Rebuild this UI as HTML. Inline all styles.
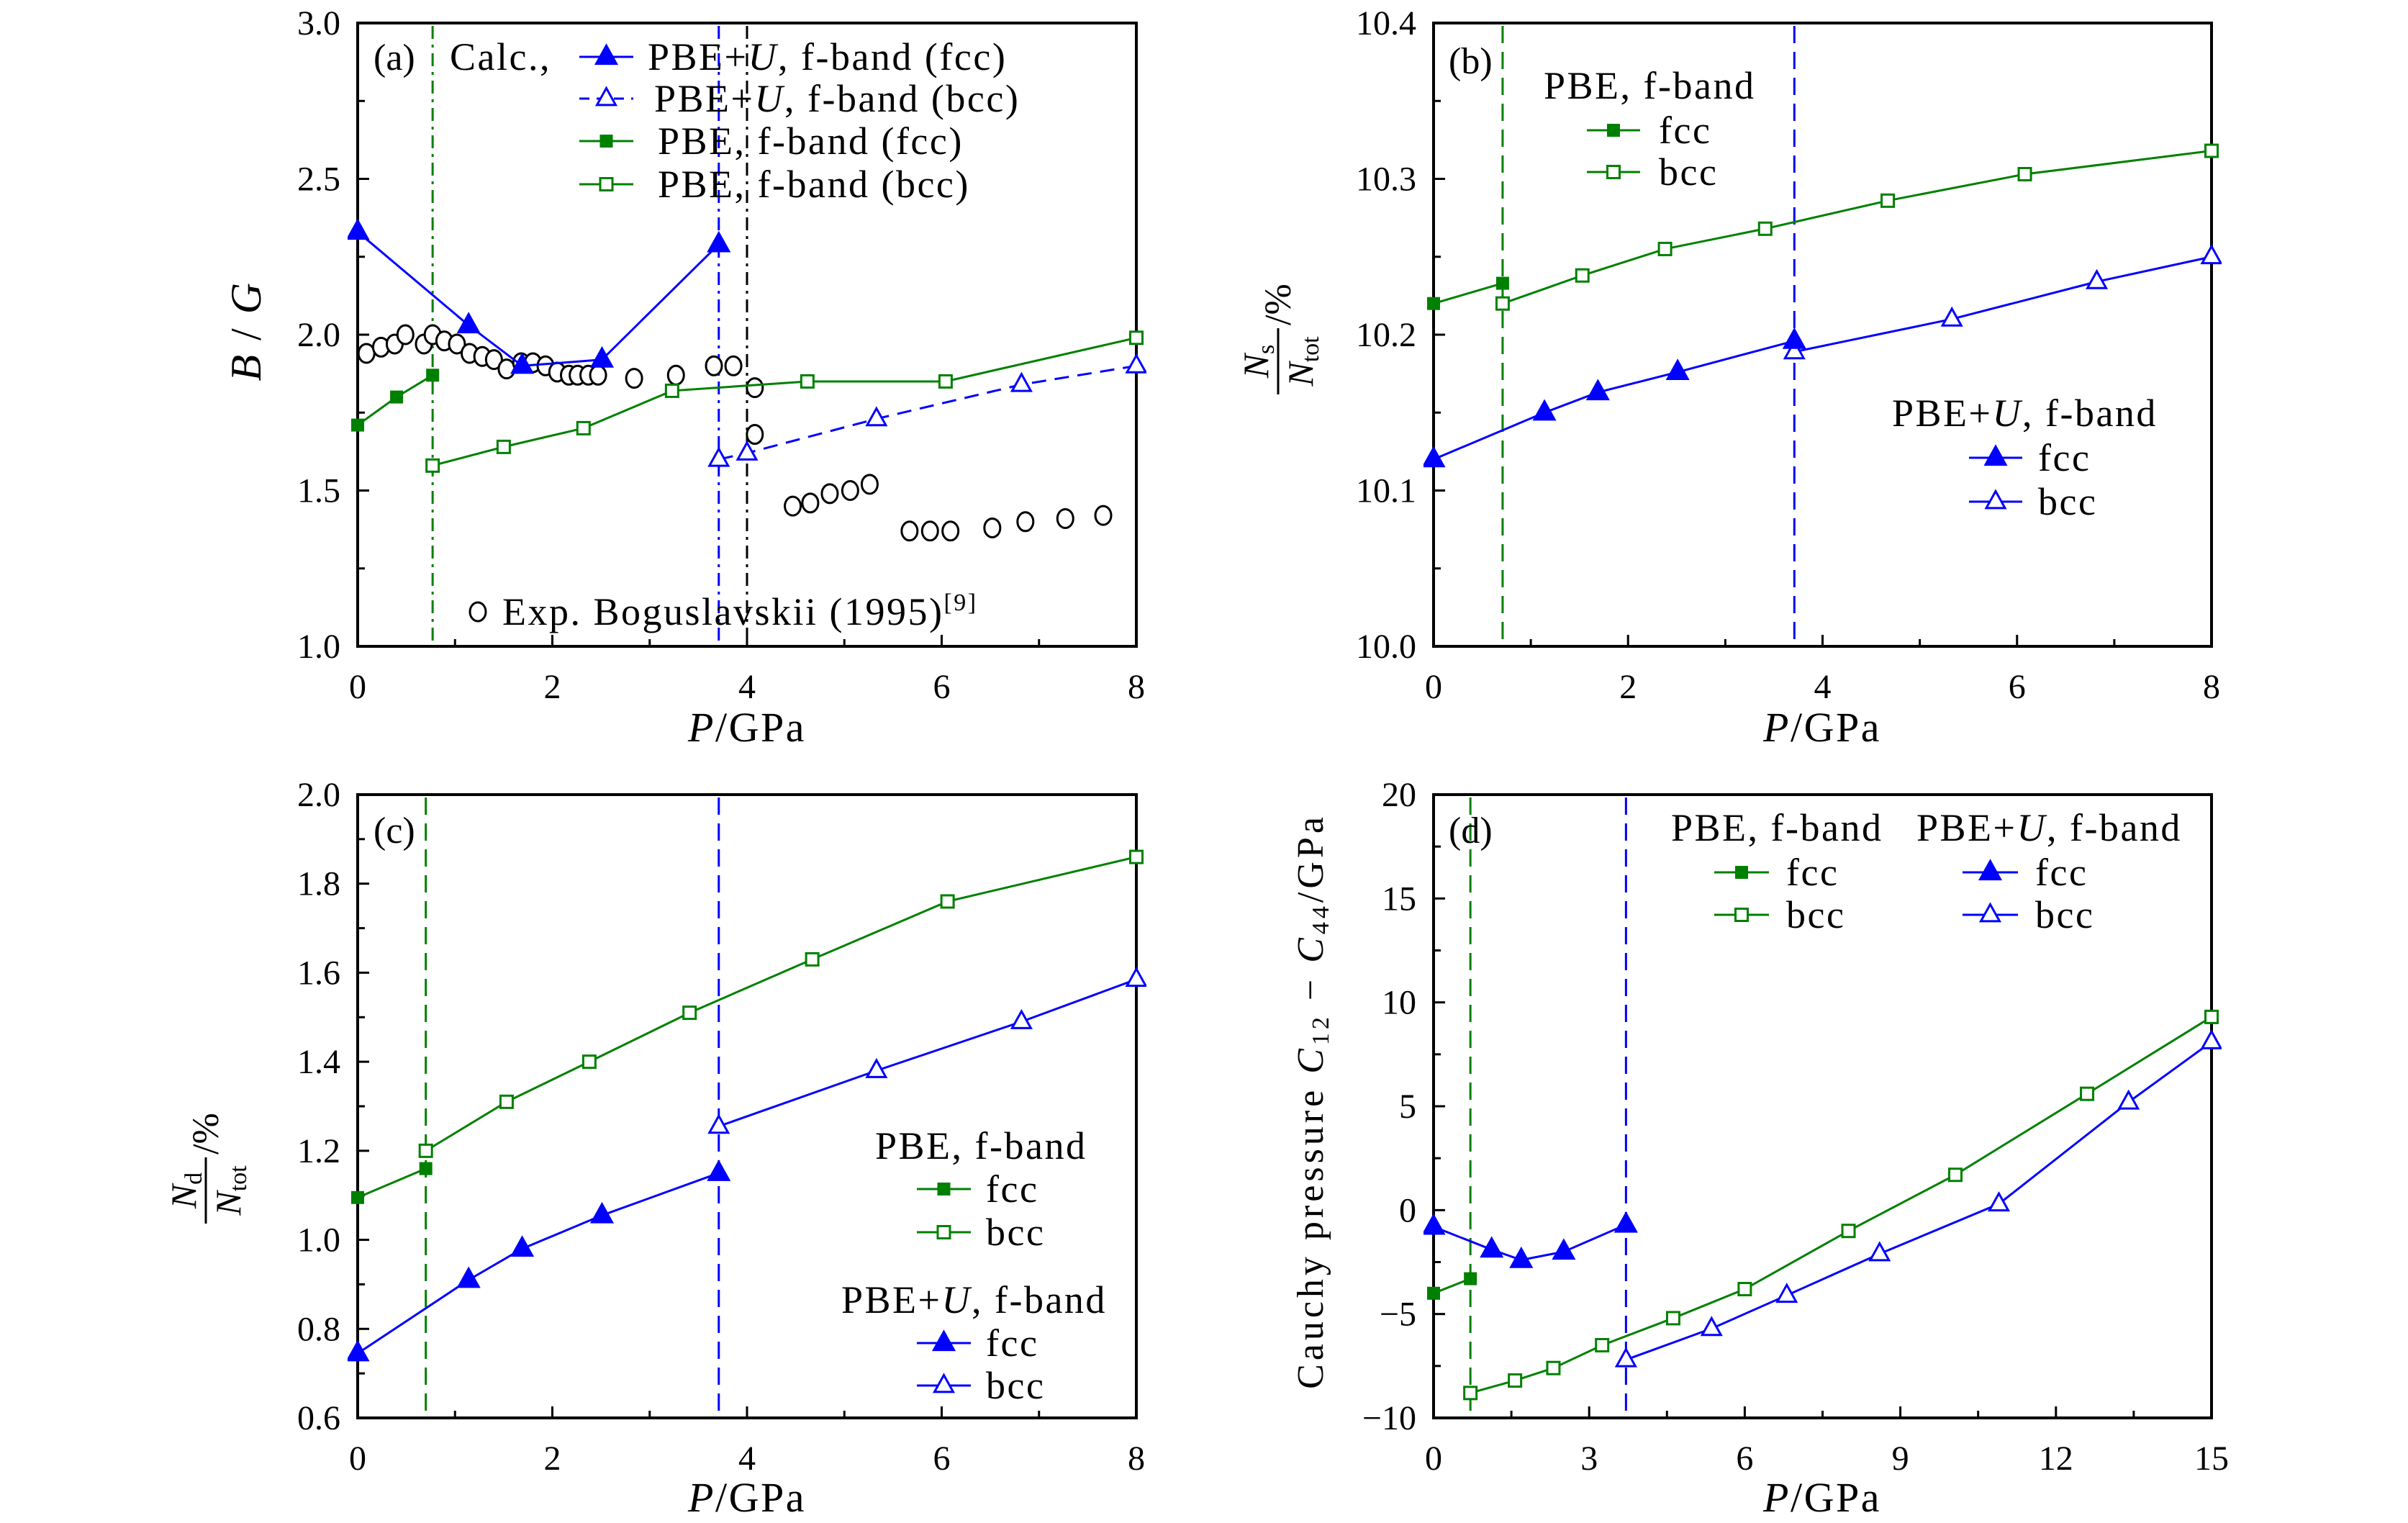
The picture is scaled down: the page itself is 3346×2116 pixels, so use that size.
<!DOCTYPE html>
<html><head><meta charset="utf-8">
<style>
html,body{margin:0;padding:0;background:#fff;}
svg{display:block;font-family:"Liberation Serif",serif;}
</style></head>
<body>
<svg id="fig" width="3346" height="2116" viewBox="0 0 3346 2116" xmlns="http://www.w3.org/2000/svg"></svg>
<script>
// ---------- Panel (a) data: B/G ----------
const aUfccX=[0,1.14,1.69,2.51,3.71];
const aUfccY=[2.33,2.03,1.90,1.92,2.29];
const aUbccX=[3.71,4.0,5.33,6.82,8];
const aUbccY=[1.60,1.62,1.73,1.84,1.90];
const aPfccX=[0,0.4,0.77];
const aPfccY=[1.71,1.80,1.87];
const aPbccX=[0.77,1.5,2.32,3.23,4.62,6.04,8];
const aPbccY=[1.58,1.64,1.70,1.82,1.85,1.85,1.99];
const aExpX=[0.09,0.24,0.38,0.49,0.68,0.77,0.89,1.02,1.15,1.28,1.40,1.53,1.68,1.80,1.93,2.05,2.17,2.26,2.37,2.47,2.84,3.27,3.66,3.86,4.08,4.08,4.47,4.65,4.85,5.06,5.26,5.67,5.88,6.09,6.52,6.86,7.27,7.66];
const aExpY=[1.94,1.96,1.97,2.00,1.97,2.00,1.98,1.97,1.94,1.93,1.92,1.89,1.91,1.91,1.90,1.88,1.87,1.87,1.87,1.87,1.86,1.87,1.90,1.90,1.83,1.68,1.45,1.46,1.49,1.50,1.52,1.37,1.37,1.37,1.38,1.40,1.41,1.42];
// ---------- Panel (b) data: Ns/Ntot ----------
const bPfccX=[0,0.71];
const bPfccY=[10.22,10.233];
const bPbccX=[0.71,1.53,2.38,3.41,4.67,6.08,8];
const bPbccY=[10.22,10.238,10.255,10.268,10.286,10.303,10.318];
const bUfccX=[0,1.14,1.69,2.51,3.71];
const bUfccY=[10.12,10.15,10.163,10.176,10.196];
const bUbccX=[3.71,5.33,6.82,8];
const bUbccY=[10.189,10.21,10.234,10.25];
// ---------- Panel (c) data: Nd/Ntot ----------
const cPfccX=[0,0.7];
const cPfccY=[1.095,1.16];
const cPbccX=[0.7,1.53,2.38,3.41,4.67,6.06,8];
const cPbccY=[1.20,1.31,1.40,1.51,1.63,1.76,1.86];
const cUfccX=[0,1.14,1.69,2.51,3.71];
const cUfccY=[0.745,0.91,0.98,1.055,1.15];
const cUbccX=[3.71,5.33,6.82,8];
const cUbccY=[1.255,1.38,1.49,1.585];
// ---------- Panel (d) data: Cauchy pressure ----------
const dPfccX=[0,0.71];
const dPfccY=[-4.0,-3.3];
const dPbccX=[0.71,1.57,2.31,3.25,4.62,6.0,8.0,10.06,12.6,15];
const dPbccY=[-8.8,-8.2,-7.6,-6.5,-5.2,-3.8,-1.0,1.7,5.6,9.3];
const dUfccX=[0,1.12,1.69,2.51,3.71];
const dUfccY=[-0.8,-1.9,-2.4,-2.0,-0.7];
const dUbccX=[3.71,5.36,6.81,8.6,10.9,13.4,15];
const dUbccY=[-7.2,-5.7,-4.1,-2.1,0.3,5.2,8.1];
// ---------- tick labels ----------
const aYTicks=["1.0","1.5","2.0","2.5","3.0"];
const bYTicks=["10.0","10.1","10.2","10.3","10.4"];
const cYTicks=["0.6","0.8","1.0","1.2","1.4","1.6","1.8","2.0"];
const dYTicks=["\u221210","\u22125","0","5","10","15","20"];
const x8Ticks=["0","2","4","6","8"];
const x15Ticks=["0","3","6","9","12","15"];

const NS="http://www.w3.org/2000/svg";
const svg=document.getElementById('fig');
const BLUE="#0000ff", GREEN="#008000";
const LFS=54, LLS=2.5;
function mk(tag,attrs,parent){const e=document.createElementNS(NS,tag);for(const k in attrs)e.setAttribute(k,attrs[k]);(parent||svg).appendChild(e);return e;}

function makeAxes(L,T,R,B,xmin,xmax,ymin,ymax){
  return {L,T,R,B,x:v=>L+(v-xmin)/(xmax-xmin)*(R-L),y:v=>B-(v-ymin)/(ymax-ymin)*(B-T),xmin,xmax,ymin,ymax};
}
function frame(ax,name,xTicks,xStep,xMinor,yTicks,yMin,yStep,yMinor){
  const g=mk('g',{});
  
  
  const r=mk('rect',{x:ax.L,y:ax.T,width:ax.R-ax.L,height:ax.B-ax.T,fill:'none',stroke:'#000','stroke-width':4},g);
  
  
  for(let v=ax.xmin;v<=ax.xmax+1e-9;v+=xMinor){
    const major=Math.abs(Math.round(v/xStep)*xStep-v)<1e-6;
    const X=ax.x(v);const len=major?16:10;
    mk('line',{x1:X,y1:ax.B,x2:X,y2:ax.B-len,stroke:'#000','stroke-width':3},g);
  }
  xTicks.forEach((t,i)=>{
    const tx=mk('text',{x:ax.x(ax.xmin+i*xStep),y:ax.B+72,'font-size':48,'text-anchor':'middle'},g);
    tx.textContent=t;
    
    
  });
  for(let v=ax.ymin;v<=ax.ymax+1e-9;v+=yMinor){
    const major=Math.abs(Math.round((v-yMin)/yStep)*yStep-(v-yMin))<1e-6;
    const Y=ax.y(v);const len=major?16:10;
    mk('line',{x1:ax.L,y1:Y,x2:ax.L+len,y2:Y,stroke:'#000','stroke-width':3},g);
  }
  yTicks.forEach((t,i)=>{
    const ty=mk('text',{x:ax.L-24,y:ax.y(yMin+i*yStep)+16,'font-size':48,'text-anchor':'end'},g);
    ty.textContent=t;
    
    
  });
}
function clipFor(ax,id){
  const cp=mk('clipPath',{id:id});
  mk('rect',{x:ax.L-14,y:ax.T,width:ax.R-ax.L+28,height:ax.B-ax.T},cp);
  return 'url(#'+id+')';
}
function marker(g,type,X,Y,color){
  let e;
  if(type==='fsq'||type==='osq'){
    const s=17;
    e=mk('rect',{x:X-s/2,y:Y-s/2,width:s,height:s,fill:type==='fsq'?color:'#fff',stroke:color,'stroke-width':type==='fsq'?1:3},g);
  }else if(type==='ftri'||type==='otri'){
    const s=type==='ftri'?28:26;const h=s*0.9;
    e=mk('polygon',{points:`${X},${Y-h*0.62} ${X-s/2},${Y+h*0.38} ${X+s/2},${Y+h*0.38}`,fill:type==='ftri'?color:'#fff',stroke:color,'stroke-width':3},g);
  }else if(type==='circ'){
    e=mk('ellipse',{cx:X,cy:Y,rx:11,ry:13,fill:'#fff',stroke:'#000','stroke-width':3},g);
  }
  return e;
}
function series(ax,clip,name,xs,ys,color,type,dash,noLine){
  const g=mk('g',{'clip-path':clip});
  
  
  if(!noLine){
    const pts=xs.map((v,i)=>ax.x(v)+','+ax.y(ys[i])).join(' ');
    const pl=mk('polyline',{points:pts,fill:'none',stroke:color,'stroke-width':3,'stroke-dasharray':dash||'none'},g);
    
    
  }
  xs.forEach((v,i)=>{
    const m=marker(g,type,ax.x(v),ax.y(ys[i]),color);
    
    
  });
}
function vline(ax,name,xv,color,dash){
  const l=mk('line',{x1:ax.x(xv),y1:ax.T+4,x2:ax.x(xv),y2:ax.B,stroke:color,'stroke-width':3,'stroke-dasharray':dash});
  
  
}
function text(x,y,str,name,opts){
  const t=mk('text',Object.assign({x:x,y:y,'font-size':LFS,'letter-spacing':LLS},opts||{}));
  t.innerHTML=str;
  
  
  return t;
}
function legendEntry(x1,x2,y,type,color,dash,label,tx,name){
  const g=mk('g',{});
  
  
  mk('line',{x1:x1,y1:y,x2:x2,y2:y,stroke:type==='circ'?'none':color,'stroke-width':3,'stroke-dasharray':dash||'none'},g);
  marker(g,type,(x1+x2)/2,y,color);
  const t=mk('text',{x:tx,y:y+18,'font-size':LFS,'letter-spacing':LLS},g);
  t.innerHTML=label;
}
const DASHDOT="18,8,4,8", DASH="24,12";

// ===== Panel (a) =====
const A=makeAxes(497,32,1579,898,0,8,1,3);
frame(A,'panel-a',x8Ticks,2,1,aYTicks,1,0.5,0.25);
const ca=clipFor(A,'ca');
vline(A,'panel-a-fcc-bcc-pbe-line',0.77,GREEN,DASHDOT);
vline(A,'panel-a-fcc-bcc-pbeu-line',3.71,BLUE,DASHDOT);
vline(A,'panel-a-exp-transition-line',4.0,'#000',DASHDOT);
series(A,ca,'a-exp-boguslavskii',aExpX,aExpY,'#000','circ',null,true);
series(A,ca,'a-pbe-bcc',aPbccX,aPbccY,GREEN,'osq');
series(A,ca,'a-pbe-fcc',aPfccX,aPfccY,GREEN,'fsq');
series(A,ca,'a-pbeu-bcc',aUbccX,aUbccY,BLUE,'otri','20,12');
series(A,ca,'a-pbeu-fcc',aUfccX,aUfccY,BLUE,'ftri');
text(519,97,'(a)','panel-a-label',{'letter-spacing':0,'font-size':52});
text(625,97,'Calc.,','panel-a-calc-label');
legendEntry(805,880,79,'ftri',BLUE,null,'PBE+<tspan font-style="italic">U</tspan>, f-band (fcc)',900,'legend-a-pbeu-fcc');
legendEntry(805,880,137,'otri',BLUE,'14,10','PBE+<tspan font-style="italic">U</tspan>, f-band (bcc)',909,'legend-a-pbeu-bcc');
legendEntry(805,880,196,'fsq',GREEN,null,'PBE, f-band (fcc)',914,'legend-a-pbe-fcc');
legendEntry(805,880,256,'osq',GREEN,null,'PBE, f-band (bcc)',914,'legend-a-pbe-bcc');
legendEntry(650,678,850,'circ','#000',null,'Exp. Boguslavskii (1995)<tspan font-size="34" dy="-20">[9]</tspan>',698,'legend-a-exp');
text(362,460,'<tspan font-style="italic">B</tspan> / <tspan font-style="italic">G</tspan>','panel-a-y-title',{transform:'rotate(-90 362 460)','text-anchor':'middle','font-size':60});
text(1038,1030,'<tspan font-style="italic">P</tspan>/GPa','panel-a-x-title',{'text-anchor':'middle','font-size':58});

// ===== Panel (b) =====
const Bx=makeAxes(1992,32,3073,898,0,8,10.0,10.4);
frame(Bx,'panel-b',x8Ticks,2,1,bYTicks,10.0,0.1,0.05);
const cb=clipFor(Bx,'cb');
vline(Bx,'panel-b-pbe-transition-line',0.71,GREEN,DASH);
vline(Bx,'panel-b-pbeu-transition-line',3.71,BLUE,DASH);
series(Bx,cb,'b-pbe-bcc',bPbccX,bPbccY,GREEN,'osq');
series(Bx,cb,'b-pbe-fcc',bPfccX,bPfccY,GREEN,'fsq');
series(Bx,cb,'b-pbeu-bcc',bUbccX,bUbccY,BLUE,'otri');
series(Bx,cb,'b-pbeu-fcc',bUfccX,bUfccY,BLUE,'ftri');
text(2013,102,'(b)','panel-b-label',{'letter-spacing':0,'font-size':52});
text(2145,137,'PBE, f-band','panel-b-pbe-legend-title');
legendEntry(2205,2279,181,'fsq',GREEN,null,'fcc',2305,'legend-b-pbe-fcc');
legendEntry(2205,2279,239,'osq',GREEN,null,'bcc',2305,'legend-b-pbe-bcc');
text(2629,592,'PBE+<tspan font-style="italic">U</tspan>, f-band','panel-b-pbeu-legend-title');
legendEntry(2736,2810,636,'ftri',BLUE,null,'fcc',2832,'legend-b-pbeu-fcc');
legendEntry(2736,2810,697,'otri',BLUE,null,'bcc',2832,'legend-b-pbeu-bcc');
(function(){
  const g=mk('g',{transform:'translate(1776,0) rotate(-90)'});
  
  
  const t1=mk('text',{x:-502,y:-14,'font-size':50,'text-anchor':'middle'},g);
  t1.innerHTML='<tspan font-style="italic">N</tspan><tspan font-size="34" dy="8">s</tspan>';
  const t2=mk('text',{x:-502,y:48,'font-size':50,'text-anchor':'middle'},g);
  t2.innerHTML='<tspan font-style="italic">N</tspan><tspan font-size="34" dy="8">tot</tspan>';
  mk('line',{x1:-548,y1:0,x2:-456,y2:0,stroke:'#000','stroke-width':3},g);
  const t3=mk('text',{x:-452,y:17,'font-size':52},g);
  t3.textContent='/%';
})();
text(2532,1030,'<tspan font-style="italic">P</tspan>/GPa','panel-b-x-title',{'text-anchor':'middle','font-size':58});

// ===== Panel (c) =====
const C=makeAxes(497,1104,1579,1970,0,8,0.6,2.0);
frame(C,'panel-c',x8Ticks,2,1,cYTicks,0.6,0.2,0.1);
const cc=clipFor(C,'cc');
vline(C,'panel-c-pbe-transition-line',0.7,GREEN,DASH);
vline(C,'panel-c-pbeu-transition-line',3.71,BLUE,DASH);
series(C,cc,'c-pbe-bcc',cPbccX,cPbccY,GREEN,'osq');
series(C,cc,'c-pbe-fcc',cPfccX,cPfccY,GREEN,'fsq');
series(C,cc,'c-pbeu-bcc',cUbccX,cUbccY,BLUE,'otri');
series(C,cc,'c-pbeu-fcc',cUfccX,cUfccY,BLUE,'ftri');
text(519,1171,'(c)','panel-c-label',{'letter-spacing':0,'font-size':52});
text(1216,1610,'PBE, f-band','panel-c-pbe-legend-title');
legendEntry(1274,1349,1652,'fsq',GREEN,null,'fcc',1370,'legend-c-pbe-fcc');
legendEntry(1274,1349,1712,'osq',GREEN,null,'bcc',1370,'legend-c-pbe-bcc');
text(1169,1824,'PBE+<tspan font-style="italic">U</tspan>, f-band','panel-c-pbeu-legend-title');
legendEntry(1274,1349,1866,'ftri',BLUE,null,'fcc',1370,'legend-c-pbeu-fcc');
legendEntry(1274,1349,1925,'otri',BLUE,null,'bcc',1370,'legend-c-pbeu-bcc');
(function(){
  const g=mk('g',{transform:'translate(286,0) rotate(-90)'});
  
  
  const t1=mk('text',{x:-1654,y:-14,'font-size':50,'text-anchor':'middle'},g);
  t1.innerHTML='<tspan font-style="italic">N</tspan><tspan font-size="34" dy="8">d</tspan>';
  const t2=mk('text',{x:-1654,y:48,'font-size':50,'text-anchor':'middle'},g);
  t2.innerHTML='<tspan font-style="italic">N</tspan><tspan font-size="34" dy="8">tot</tspan>';
  mk('line',{x1:-1700,y1:0,x2:-1608,y2:0,stroke:'#000','stroke-width':3},g);
  const t3=mk('text',{x:-1604,y:17,'font-size':52},g);
  t3.textContent='/%';
})();
text(1038,2100,'<tspan font-style="italic">P</tspan>/GPa','panel-c-x-title',{'text-anchor':'middle','font-size':58});

// ===== Panel (d) =====
const D=makeAxes(1992,1104,3073,1970,0,15,-10,20);
frame(D,'panel-d',x15Ticks,3,1.5,dYTicks,-10,5,2.5);
const cd=clipFor(D,'cd');
vline(D,'panel-d-pbe-transition-line',0.71,GREEN,DASH);
vline(D,'panel-d-pbeu-transition-line',3.71,BLUE,DASH);
series(D,cd,'d-pbe-bcc',dPbccX,dPbccY,GREEN,'osq');
series(D,cd,'d-pbe-fcc',dPfccX,dPfccY,GREEN,'fsq');
series(D,cd,'d-pbeu-bcc',dUbccX,dUbccY,BLUE,'otri');
series(D,cd,'d-pbeu-fcc',dUfccX,dUfccY,BLUE,'ftri');
text(2013,1171,'(d)','panel-d-label',{'letter-spacing':0,'font-size':52});
text(2322,1168,'PBE, f-band','panel-d-pbe-legend-title');
text(2663,1168,'PBE+<tspan font-style="italic">U</tspan>, f-band','panel-d-pbeu-legend-title');
legendEntry(2382,2458,1212,'fsq',GREEN,null,'fcc',2482,'legend-d-pbe-fcc');
legendEntry(2382,2458,1271,'osq',GREEN,null,'bcc',2482,'legend-d-pbe-bcc');
legendEntry(2727,2804,1212,'ftri',BLUE,null,'fcc',2828,'legend-d-pbeu-fcc');
legendEntry(2727,2804,1271,'otri',BLUE,null,'bcc',2828,'legend-d-pbeu-bcc');
text(1838,1530,'Cauchy  pressure  <tspan font-style="italic">C</tspan><tspan font-size="34" dy="8">12</tspan><tspan dy="-8"> \u2212 </tspan><tspan font-style="italic">C</tspan><tspan font-size="34" dy="8">44</tspan><tspan dy="-8">/GPa</tspan>','panel-d-y-title',{transform:'rotate(-90 1838 1530)','text-anchor':'middle','font-size':52,'letter-spacing':5});
text(2532,2100,'<tspan font-style="italic">P</tspan>/GPa','panel-d-x-title',{'text-anchor':'middle','font-size':58});
</script>
</body></html>
